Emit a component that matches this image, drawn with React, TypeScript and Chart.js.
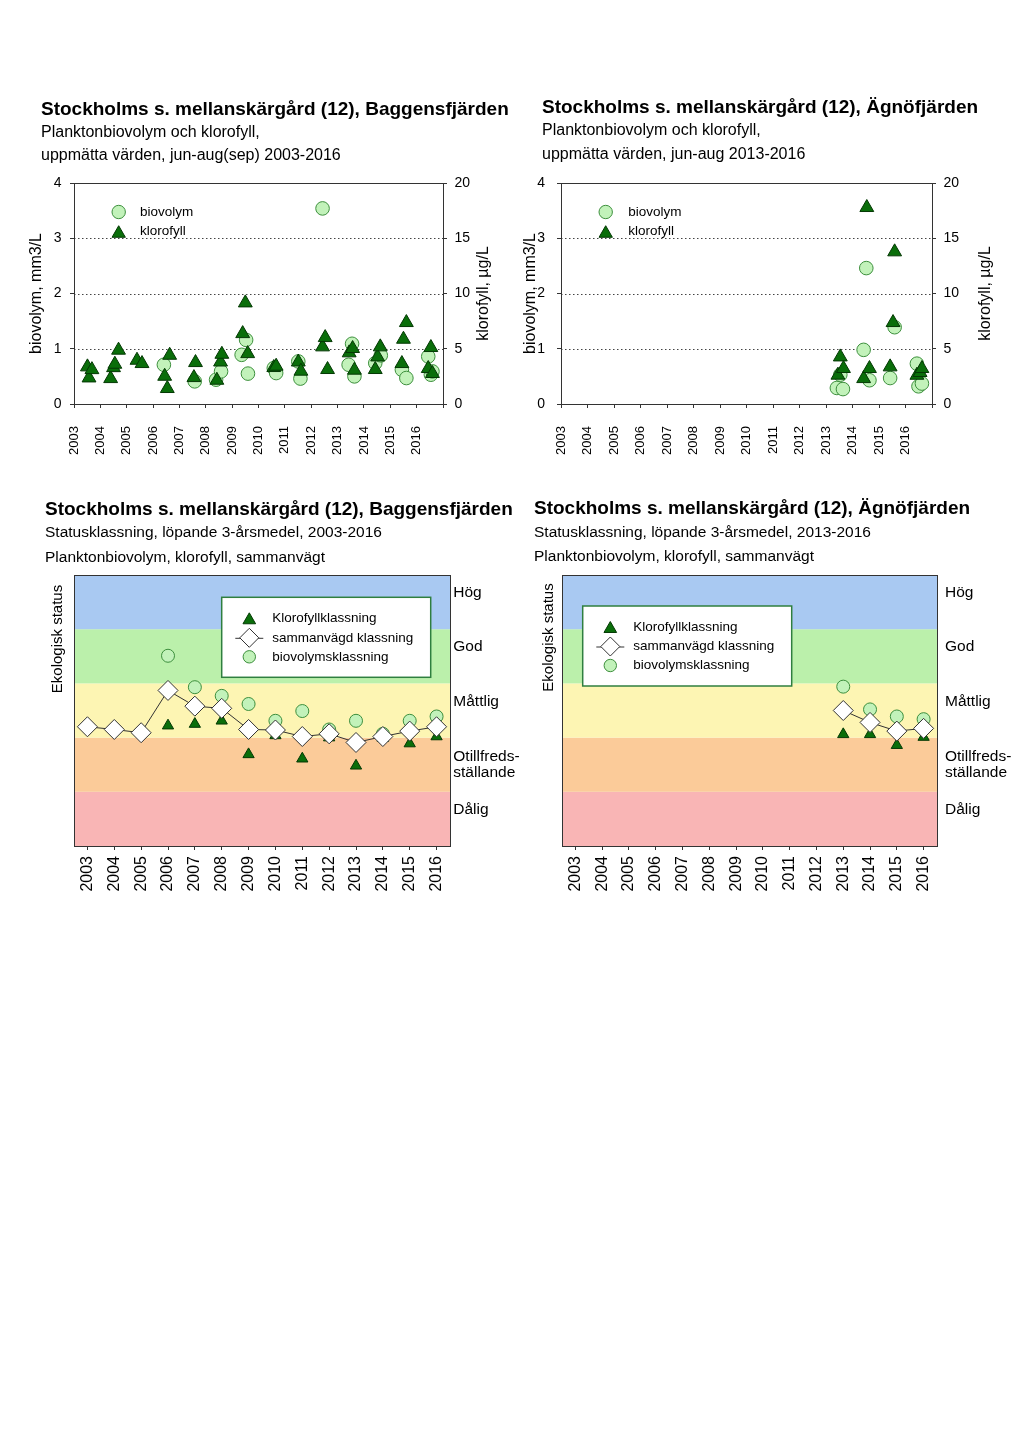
import React, { useEffect, useRef } from 'react';
import { Chart, registerables } from 'chart.js';

Chart.register(...registerables);

const FONT = '"Liberation Sans", Arial, Helvetica, sans-serif';

// ---------------- data ----------------
const years = ['2003', '2004', '2005', '2006', '2007', '2008', '2009', '2010', '2011', '2012', '2013', '2014', '2015', '2016'];

// measured values: [sampling time as decimal year, value]
const baggensBiovolym: [number, number][] = [
  [2006.41, 0.71], [2007.58, 0.41], [2008.39, 0.44], [2008.58, 0.59],
  [2009.36, 0.89], [2009.53, 1.16], [2009.6, 0.55], [2010.58, 0.65],
  [2010.67, 0.56], [2011.51, 0.77], [2011.59, 0.46], [2012.43, 3.54],
  [2013.42, 0.71], [2013.55, 1.09], [2013.64, 0.5], [2014.43, 0.74],
  [2014.64, 0.88], [2015.44, 0.62], [2015.61, 0.47], [2016.44, 0.86],
  [2016.54, 0.53], [2016.6, 0.59],
];
const baggensKlorofyll: [number, number][] = [
  [2003.51, 3.36], [2003.57, 2.36], [2003.68, 3.11], [2004.39, 2.3],
  [2004.5, 3.29], [2004.55, 3.6], [2004.69, 4.87], [2005.39, 3.96],
  [2005.58, 3.66], [2006.44, 2.51], [2006.54, 1.4], [2006.63, 4.41],
  [2007.55, 2.39], [2007.61, 3.75], [2008.42, 2.15], [2008.56, 3.8],
  [2008.61, 4.5], [2009.4, 6.37], [2009.5, 9.15], [2009.59, 4.56],
  [2010.58, 3.3], [2010.67, 3.42], [2011.51, 3.8], [2011.61, 2.97],
  [2012.43, 5.17], [2012.53, 6.01], [2012.62, 3.12], [2013.44, 4.63],
  [2013.57, 5.02], [2013.64, 3.06], [2014.43, 3.12], [2014.52, 4.26],
  [2014.62, 5.17], [2015.44, 3.66], [2015.5, 5.86], [2015.61, 7.37],
  [2016.44, 3.21], [2016.54, 5.11], [2016.6, 2.76],
];
const agnoBiovolym: [number, number][] = [
  [2013.41, 0.29], [2013.54, 0.53], [2013.64, 0.27], [2014.42, 0.98],
  [2014.52, 2.46], [2014.64, 0.43], [2015.42, 0.47], [2015.59, 1.39],
  [2016.43, 0.73], [2016.49, 0.32], [2016.62, 0.37],
];
const agnoKlorofyll: [number, number][] = [
  [2013.45, 2.61], [2013.54, 4.26], [2013.66, 3.21], [2014.42, 2.3],
  [2014.54, 17.78], [2014.64, 3.21], [2015.42, 3.36], [2015.53, 7.37],
  [2015.59, 13.77], [2016.43, 2.6], [2016.55, 2.85], [2016.62, 3.21],
];

// status classification, running 3-year means (0-5 scale)
const baggensSammanvagd = [2.2, 2.15, 2.09, 2.87, 2.58, 2.54, 2.15, 2.14, 2.02, 2.07, 1.91, 2.02, 2.12, 2.2];
const baggensKlorofyllKlass = [null, null, null, 2.22, 2.25, 2.31, 1.69, 2.04, 1.61, 2.0, 1.48, 1.99, 1.89, 2.02];
const baggensBiovolymKlass = [null, null, null, 3.51, 2.93, 2.77, 2.62, 2.31, 2.49, 2.15, 2.31, 2.07, 2.31, 2.39];
const agnoSammanvagd = [null, null, null, null, null, null, null, null, null, null, 2.5, 2.28, 2.12, 2.17];
const agnoKlorofyllKlass = [null, null, null, null, null, null, null, null, null, null, 2.06, 2.06, 1.86, 2.01];
const agnoBiovolymKlass = [null, null, null, null, null, null, null, null, null, null, 2.94, 2.52, 2.39, 2.34];

const statusLabels: (string | string[])[] = ['Dålig', ['Otillfreds-', 'ställande'], 'Måttlig', 'God', 'Hög'];
const statusLabelPos = [0.67, 1.5, 2.67, 3.67, 4.67];
const statusColors = ['#f9b5b5', '#fbcb99', '#fdf5b3', '#bbf0ab', '#a9c9f2'];

// ---------------- styles ----------------
const AXIS = '#333333';
const TRI_FILL = '#0a6e0a';
const TRI_EDGE = '#043804';
const CIRC_FILL = '#c2f2ba';
const CIRC_EDGE = '#3d8f3d';
const LEGEND_EDGE = '#2f7f3f';
const TITLE_SIZE = 19;

type Rect = { left: number; top: number; width: number; height: number };
type Area = { left: number; top: number; right: number; bottom: number };
type Spec = {
  canvas: Rect; area: Area; titleX: number; titleY: number; subY: number; subGap: number; subSize: number;
  title: string; subtitle: string[];
};

function frameLayout(s: Spec) {
  return {
    padTop: s.area.top - s.canvas.top,
    leftW: s.area.left - s.canvas.left,
    rightW: s.canvas.left + s.canvas.width - s.area.right,
    xH: s.canvas.top + s.canvas.height - s.area.bottom,
  };
}

type LegendItem = { text: string; style: string; r: number; fill: string; stroke: string; line?: number };
type Heading = { text: string; x: number; y: number; size: number; bold: boolean };
type Decor = {
  headings: Heading[];
  bands?: { scale: string; colors: string[] };
  dotted?: { scale: string; values: number[] };
  titles: { text: string; side: 'left' | 'right'; offset: number; dy?: number; size: number }[];
  legend: {
    left: number; top: number; box?: { w: number; h: number };
    markerDx: number; textDx: number; rows: number[]; size: number; items: LegendItem[];
  };
};

function headingsFor(s: Spec): Heading[] {
  const cx = s.canvas.left;
  const cy = s.canvas.top;
  return [
    { text: s.title, x: s.titleX - cx, y: s.titleY - cy, size: TITLE_SIZE, bold: true },
    ...s.subtitle.map((t, i) => ({ text: t, x: s.titleX - cx, y: s.subY + i * s.subGap - cy, size: s.subSize, bold: false })),
  ];
}

function drawMarker(ctx: CanvasRenderingContext2D, style: string, x: number, y: number, r: number, fill: string, stroke: string) {
  ctx.beginPath();
  if (style === 'circle') {
    ctx.arc(x, y, r, 0, Math.PI * 2);
  } else if (style === 'triangle') {
    let rad = 0;
    ctx.moveTo(x + Math.sin(rad) * r, y - Math.cos(rad) * r);
    rad += (2 * Math.PI) / 3;
    ctx.lineTo(x + Math.sin(rad) * r, y - Math.cos(rad) * r);
    rad += (2 * Math.PI) / 3;
    ctx.lineTo(x + Math.sin(rad) * r, y - Math.cos(rad) * r);
  } else {
    ctx.moveTo(x - r, y);
    ctx.lineTo(x, y - r);
    ctx.lineTo(x + r, y);
    ctx.lineTo(x, y + r);
  }
  ctx.closePath();
  ctx.fillStyle = fill;
  ctx.fill();
  ctx.strokeStyle = stroke;
  ctx.lineWidth = 1;
  ctx.stroke();
}

function makeDecor(d: Decor) {
  return {
    id: 'decor',
    beforeDraw(chart: any) {
      const { ctx, chartArea: a } = chart;
      ctx.save();
      if (d.bands) {
        const ys = chart.scales[d.bands.scale];
        d.bands.colors.forEach((c, i) => {
          const t = ys.getPixelForValue(i + 1);
          const b = ys.getPixelForValue(i);
          ctx.fillStyle = c;
          ctx.fillRect(a.left, t, a.right - a.left, b - t);
        });
      }
      ctx.restore();
    },
    beforeDatasetsDraw(chart: any) {
      const { ctx, chartArea: a } = chart;
      ctx.save();
      if (d.dotted) {
        const ys = chart.scales[d.dotted.scale];
        ctx.strokeStyle = '#444';
        ctx.lineWidth = 1;
        ctx.setLineDash([1.5, 2.5]);
        d.dotted.values.forEach((v) => {
          const y = Math.round(ys.getPixelForValue(v)) + 0.5;
          ctx.beginPath();
          ctx.moveTo(a.left, y);
          ctx.lineTo(a.right, y);
          ctx.stroke();
        });
        ctx.setLineDash([]);
      }
      ctx.strokeStyle = AXIS;
      ctx.lineWidth = 1;
      ctx.strokeRect(Math.round(a.left) + 0.5, Math.round(a.top) + 0.5, Math.round(a.right - a.left), Math.round(a.bottom - a.top));
      ctx.restore();
    },
    afterDraw(chart: any) {
      const { ctx, chartArea: a } = chart;
      ctx.save();
      d.headings.forEach((h) => {
        ctx.font = `${h.bold ? 'bold ' : ''}${h.size}px ${FONT}`;
        ctx.fillStyle = '#000';
        ctx.textAlign = 'left';
        ctx.textBaseline = 'middle';
        ctx.fillText(h.text, h.x, h.y);
      });
      d.titles.forEach((t) => {
        const x = t.side === 'left' ? a.left - t.offset : a.right + t.offset;
        const y = t.dy !== undefined ? a.top + t.dy : (a.top + a.bottom) / 2;
        ctx.save();
        ctx.translate(x, y);
        ctx.rotate(-Math.PI / 2);
        ctx.textAlign = 'center';
        ctx.textBaseline = 'middle';
        ctx.font = `${t.size}px ${FONT}`;
        ctx.fillStyle = '#000';
        ctx.fillText(t.text, 0, 0);
        ctx.restore();
      });
      const lg = d.legend;
      const lx = a.left + lg.left;
      const ly = a.top + lg.top;
      if (lg.box) {
        ctx.fillStyle = '#fff';
        ctx.fillRect(lx, ly, lg.box.w, lg.box.h);
        ctx.strokeStyle = LEGEND_EDGE;
        ctx.lineWidth = 1.5;
        ctx.strokeRect(lx, ly, lg.box.w, lg.box.h);
      }
      lg.items.forEach((it, i) => {
        const mx = lx + lg.markerDx;
        const my = ly + lg.rows[i];
        if (it.line) {
          ctx.strokeStyle = AXIS;
          ctx.lineWidth = 1;
          ctx.beginPath();
          ctx.moveTo(mx - it.line, my + 0.5);
          ctx.lineTo(mx + it.line, my + 0.5);
          ctx.stroke();
        }
        drawMarker(ctx, it.style, mx, it.style === 'triangle' ? my + it.r / 4 : my, it.r, it.fill, it.stroke);
        ctx.fillStyle = '#000';
        ctx.font = `${lg.size}px ${FONT}`;
        ctx.textAlign = 'left';
        ctx.textBaseline = 'middle';
        ctx.fillText(it.text, lx + lg.textDx, my);
      });
      ctx.restore();
    },
  };
}

function baseOptions(L: ReturnType<typeof frameLayout>) {
  return {
    animation: false,
    responsive: false,
    maintainAspectRatio: false,
    devicePixelRatio: 1,
    events: [],
    layout: { padding: { left: 0, right: 0, top: L.padTop, bottom: 0 } },
    plugins: {
      legend: { display: false },
      tooltip: { enabled: false },
      title: { display: false },
    },
  };
}

// ---------------- measured-values charts ----------------
type TopExtra = { leftPad: number; rightPad: number; leftTitleOff: number; rightTitleOff: number; legendTextDx: number };

function topConfig(s: Spec, e: TopExtra, bio: [number, number][], chl: [number, number][]) {
  const L = frameLayout(s);
  const tickGrid = { drawOnChartArea: false, drawTicks: true, tickLength: 4, tickColor: AXIS };
  const border = { display: true, color: AXIS, width: 1 };
  return {
    type: 'scatter',
    data: {
      datasets: [
        {
          label: 'klorofyll', data: chl.map(([x, y]) => ({ x, y })), yAxisID: 'yR',
          pointStyle: 'triangle', pointRadius: 8, pointHoverRadius: 8,
          backgroundColor: TRI_FILL, borderColor: TRI_EDGE, borderWidth: 1,
        },
        {
          label: 'biovolym', data: bio.map(([x, y]) => ({ x, y })), yAxisID: 'yL',
          pointStyle: 'circle', pointRadius: 6.8, pointHoverRadius: 6.8,
          backgroundColor: CIRC_FILL, borderColor: CIRC_EDGE, borderWidth: 1,
        },
      ],
    },
    options: {
      ...baseOptions(L),
      scales: {
        x: {
          type: 'linear', position: 'bottom', min: 2003, max: 2017,
          afterFit: (sc: any) => { sc.height = L.xH; },
          ticks: {
            stepSize: 1, autoSkip: false, minRotation: 90, maxRotation: 90, padding: 18,
            color: '#000', font: { family: FONT, size: 13 },
            callback: (v: number) => (v >= 2017 ? '' : String(v)),
          },
          grid: tickGrid, border,
        },
        yL: {
          type: 'linear', position: 'left', min: 0, max: 4,
          afterFit: (sc: any) => { sc.width = L.leftW; },
          ticks: { stepSize: 1, padding: e.leftPad, color: '#000', font: { family: FONT, size: 14 } },
          grid: tickGrid, border,
        },
        yR: {
          type: 'linear', position: 'right', min: 0, max: 20,
          afterFit: (sc: any) => { sc.width = L.rightW; },
          ticks: { stepSize: 5, padding: e.rightPad, color: '#000', font: { family: FONT, size: 14 } },
          grid: tickGrid, border,
        },
      },
    },
    plugins: [
      makeDecor({
        headings: headingsFor(s),
        dotted: { scale: 'yL', values: [1, 2, 3] },
        titles: [
          { text: 'biovolym, mm3/L', side: 'left', offset: e.leftTitleOff, size: 16 },
          { text: 'klorofyll, µg/L', side: 'right', offset: e.rightTitleOff, size: 16 },
        ],
        legend: {
          left: 44.7, top: 0, markerDx: 0, textDx: e.legendTextDx, rows: [29, 48.5], size: 13.5,
          items: [
            { text: 'biovolym', style: 'circle', r: 6.7, fill: CIRC_FILL, stroke: CIRC_EDGE },
            { text: 'klorofyll', style: 'triangle', r: 7.7, fill: TRI_FILL, stroke: TRI_EDGE },
          ],
        },
      }),
    ],
  };
}

// ---------------- status charts ----------------
type BottomExtra = { statusPad: number; leftTitleOff: number; leftTitleDy: number; legendLeft: number; legendTop: number };

function statusConfig(
  s: Spec, e: BottomExtra,
  samman: (number | null)[], chl: (number | null)[], bio: (number | null)[],
) {
  const L = frameLayout(s);
  return {
    type: 'line',
    data: {
      labels: years,
      datasets: [
        {
          label: 'sammanvägd klassning', data: samman, showLine: true, spanGaps: false, tension: 0, fill: false,
          borderColor: AXIS, borderWidth: 1, pointStyle: 'rectRot', pointRadius: 10, pointHoverRadius: 10,
          pointBackgroundColor: '#ffffff', pointBorderColor: AXIS, pointBorderWidth: 1,
        },
        {
          label: 'biovolymsklassning', data: bio, showLine: false,
          pointStyle: 'circle', pointRadius: 6.5, pointHoverRadius: 6.5,
          pointBackgroundColor: CIRC_FILL, pointBorderColor: CIRC_EDGE, pointBorderWidth: 1,
          borderColor: CIRC_EDGE, backgroundColor: CIRC_FILL,
        },
        {
          label: 'Klorofyllklassning', data: chl, showLine: false,
          pointStyle: 'triangle', pointRadius: 6.5, pointHoverRadius: 6.5,
          pointBackgroundColor: TRI_FILL, pointBorderColor: TRI_EDGE, pointBorderWidth: 1,
          borderColor: TRI_EDGE, backgroundColor: TRI_FILL,
        },
      ],
    },
    options: {
      ...baseOptions(L),
      scales: {
        x: {
          type: 'category', position: 'bottom', offset: true,
          afterFit: (sc: any) => { sc.height = L.xH; },
          ticks: {
            autoSkip: false, minRotation: 90, maxRotation: 90, padding: 6,
            color: '#000', font: { family: FONT, size: 16 },
          },
          grid: { drawOnChartArea: false, drawTicks: true, tickLength: 4, tickColor: AXIS, offset: false },
          border: { display: true, color: AXIS, width: 1 },
        },
        y: {
          type: 'linear', position: 'left', min: 0, max: 5,
          afterFit: (sc: any) => { sc.width = L.leftW; },
          ticks: { display: false },
          grid: { display: false, drawTicks: false },
          border: { display: true, color: AXIS, width: 1 },
        },
        yStatus: {
          type: 'linear', position: 'right', min: 0, max: 5,
          afterFit: (sc: any) => { sc.width = L.rightW; },
          afterBuildTicks: (sc: any) => { sc.ticks = statusLabelPos.map((v) => ({ value: v })); },
          ticks: {
            padding: e.statusPad, color: '#000',
            font: { family: FONT, size: 15.5, lineHeight: 16 / 15.5 },
            callback: (_v: number, i: number) => statusLabels[i],
          },
          grid: { display: false, drawTicks: false },
          border: { display: false },
        },
      },
    },
    plugins: [
      makeDecor({
        headings: headingsFor(s),
        bands: { scale: 'y', colors: statusColors },
        titles: [{ text: 'Ekologisk status', side: 'left', offset: e.leftTitleOff, dy: e.leftTitleDy, size: 15 }],
        legend: {
          left: e.legendLeft, top: e.legendTop, box: { w: 209, h: 80 },
          markerDx: 27.6, textDx: 50.6, rows: [21, 40.5, 59.5], size: 13.5,
          items: [
            { text: 'Klorofyllklassning', style: 'triangle', r: 7.3, fill: TRI_FILL, stroke: TRI_EDGE },
            { text: 'sammanvägd klassning', style: 'rectRot', r: 9.5, fill: '#ffffff', stroke: AXIS, line: 14 },
            { text: 'biovolymsklassning', style: 'circle', r: 6.2, fill: CIRC_FILL, stroke: CIRC_EDGE },
          ],
        },
      }),
    ],
  };
}

// ---------------- chart specs ----------------
const specTL: Spec = {
  canvas: { left: 20, top: 88, width: 510, height: 380 },
  area: { left: 74, top: 183, right: 443, bottom: 404 },
  titleX: 41, titleY: 109.5, subY: 132.5, subGap: 23.5, subSize: 16,
  title: 'Stockholms s. mellanskärgård (12), Baggensfjärden',
  subtitle: ['Planktonbiovolym och klorofyll,', 'uppmätta värden, jun-aug(sep) 2003-2016'],
};
const specTR: Spec = {
  canvas: { left: 515, top: 88, width: 505, height: 380 },
  area: { left: 561, top: 183, right: 932, bottom: 404 },
  titleX: 542, titleY: 108, subY: 131, subGap: 24, subSize: 16,
  title: 'Stockholms s. mellanskärgård (12), Ägnöfjärden',
  subtitle: ['Planktonbiovolym och klorofyll,', 'uppmätta värden, jun-aug 2013-2016'],
};
const specBL: Spec = {
  canvas: { left: 20, top: 490, width: 510, height: 420 },
  area: { left: 74, top: 575, right: 450, bottom: 846 },
  titleX: 45, titleY: 510, subY: 533, subGap: 24.5, subSize: 15.5,
  title: 'Stockholms s. mellanskärgård (12), Baggensfjärden',
  subtitle: ['Statusklassning, löpande 3-årsmedel, 2003-2016', 'Planktonbiovolym, klorofyll, sammanvägt'],
};
const specBR: Spec = {
  canvas: { left: 515, top: 490, width: 505, height: 420 },
  area: { left: 562, top: 575, right: 937, bottom: 846 },
  titleX: 534, titleY: 508.5, subY: 533, subGap: 23.5, subSize: 15.5,
  title: 'Stockholms s. mellanskärgård (12), Ägnöfjärden',
  subtitle: ['Statusklassning, löpande 3-årsmedel, 2013-2016', 'Planktonbiovolym, klorofyll, sammanvägt'],
};

const makeTL = () => topConfig(specTL, { leftPad: 8.5, rightPad: 7.5, leftTitleOff: 37, rightTitleOff: 41, legendTextDx: 21.3 }, baggensBiovolym, baggensKlorofyll);
const makeTR = () => topConfig(specTR, { leftPad: 12, rightPad: 7.5, leftTitleOff: 30, rightTitleOff: 54, legendTextDx: 22.6 }, agnoBiovolym, agnoKlorofyll);
const makeBL = () => statusConfig(specBL, { statusPad: 3.3, leftTitleOff: 16, leftTitleDy: 64, legendLeft: 147.7, legendTop: 22.3 }, baggensSammanvagd, baggensKlorofyllKlass, baggensBiovolymKlass);
const makeBR = () => statusConfig(specBR, { statusPad: 8, leftTitleOff: 13.3, leftTitleDy: 62.5, legendLeft: 20.7, legendTop: 31 }, agnoSammanvagd, agnoKlorofyllKlass, agnoBiovolymKlass);

function ChartBox({ rect, make }: { rect: Rect; make: () => any }) {
  const ref = useRef<HTMLCanvasElement | null>(null);
  useEffect(() => {
    if (!ref.current) return;
    const chart = new Chart(ref.current, make());
    return () => chart.destroy();
  }, [make]);
  return (
    <canvas
      ref={ref}
      width={rect.width}
      height={rect.height}
      style={{ position: 'absolute', left: rect.left, top: rect.top, width: rect.width, height: rect.height, display: 'block' }}
    />
  );
}

export default function App() {
  return (
    <div style={{ position: 'absolute', left: 0, top: 0, width: 1024, height: 1448, background: '#ffffff', overflow: 'hidden' }}>
      <ChartBox rect={specTL.canvas} make={makeTL} />
      <ChartBox rect={specTR.canvas} make={makeTR} />
      <ChartBox rect={specBL.canvas} make={makeBL} />
      <ChartBox rect={specBR.canvas} make={makeBR} />
    </div>
  );
}
